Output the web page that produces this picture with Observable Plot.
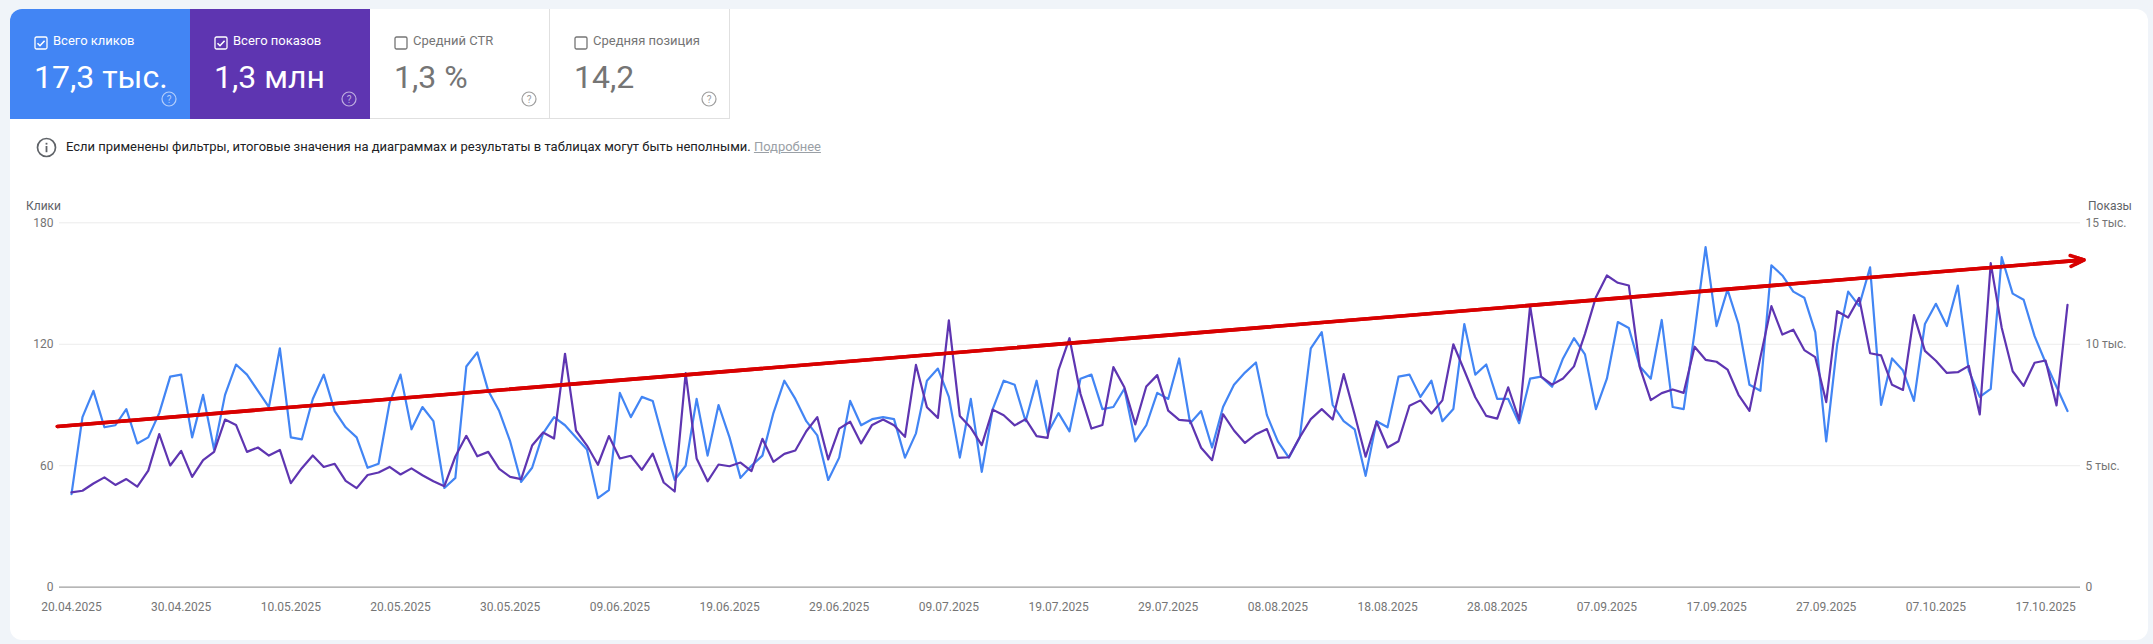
<!DOCTYPE html>
<html><head><meta charset="utf-8">
<script src="https://cdn.jsdelivr.net/npm/d3@7"></script>
<script src="https://cdn.jsdelivr.net/npm/@observablehq/plot@0.6"></script>
<style>
html,body{margin:0;padding:0;background:#f0f4f9;width:2153px;height:644px;overflow:hidden;font-family:Roboto,sans-serif}
#card{position:absolute;left:10px;top:9px;width:2138px;height:631px;background:#fff;border-radius:12px}
.tile{position:absolute;top:9px;width:180px;height:110px;box-sizing:border-box;color:#757575;border-right:1px solid #e0e0e0;border-bottom:1px solid #e0e0e0}
.tile.on{color:#fff;border:none}
.tile .lab{position:absolute;left:43px;top:25px;font-size:13px;line-height:14px;white-space:nowrap}
.tile .val{position:absolute;left:24px;top:49px;font-size:32px;line-height:38px;white-space:nowrap}
.tile svg.cb{position:absolute;left:24px;top:27px}
.tile svg.q{position:absolute;left:151px;top:82px}
#info{position:absolute;left:66px;top:139px;font-size:12.97px;line-height:16px;color:#202124;white-space:nowrap}
#info a{color:#9aa0a6;text-decoration:underline}
#infoIcon{position:absolute;left:36px;top:137px}
.ax{position:absolute;top:199px;font-size:12px;line-height:14px;color:#5f6368}
#chart{position:absolute;left:0;top:190px}
</style></head><body>
<div id="card"></div>
<div id="tiles"></div>
<svg id="infoIcon" width="21" height="21" viewBox="0 0 21 21"><circle cx="10.5" cy="10.5" r="9" fill="none" stroke="#5f6368" stroke-width="1.7"/><rect x="9.6" y="9" width="1.8" height="6.2" fill="#5f6368"/><rect x="9.6" y="5.8" width="1.8" height="1.8" fill="#5f6368"/></svg>
<div id="info">Если применены фильтры, итоговые значения на диаграммах и результаты в таблицах могут быть неполными. <a>Подробнее</a></div>
<div class="ax" style="left:26px">Клики</div>
<div class="ax" style="left:2088px">Показы</div>
<div id="chart"></div>
<script>
const startDate = "2025-04-20";
const clicks = [46,84,97,79,80,88,71,74,86,104,105,74,95,68,95,110,105,97,89,118,74,73,93,105,87,79,74,59,61,91,105,78,89,82,49,54,109,116,97,87,72,52,59,76,84,
80,74,68,44,48,96,84,94,92,72,53,60,93,65,90,74,54,60,65,86,102,93,82,75,53,64,92,80,83,84,83,64,76,102,108,94,64,93,57,88,102,100,82,102,76,86,77,103,105,88,
89,98,72,80,96,93,113,81,87,69,89,100,106,111,85,72,64,74,118,126,90,82,78,55,82,79,104,105,94,102,82,88,130,105,110,93,93,81,103,104,99,113,123,115,88,103,131,128,
109,103,132,89,88,126,168,129,147,130,100,97,159,154,146,143,126,72,120,146,139,158,90,113,107,92,130,140,129,149,107,94,98,163,145,142,124,111,99,87];
const impressions = [3900,3970,4270,4520,4210,4450,4140,4800,6300,5010,5610,4540,5230,5570,6900,6680,5570,5750,5420,5650,4280,4900,5420,4950,5080,4380,4080,4620,4720,4950,4640,4890,4610,4360,4160,5380,6230,5390,5570,4870,4540,4450,5830,6370,6120,
9610,6450,5830,5040,6220,5300,5410,4830,5500,4310,3940,8810,5300,4360,5050,4980,5130,4780,6110,5160,5490,5630,6420,7000,5260,6530,6810,5920,6680,6900,6670,6190,9150,7410,6970,10980,7050,6560,5850,7310,7080,6660,6920,6220,6150,8950,10250,7960,6530,6680,
9060,8230,6700,8260,8730,7270,6890,6850,5740,5230,7120,6450,5940,6300,6510,5320,5350,6180,6920,7330,6900,8770,7110,5370,6810,5750,6010,7470,7690,7150,7690,10000,8920,7820,7050,6940,8230,6890,11580,8670,8340,8590,9090,10430,11940,12830,12530,12420,
9060,7700,7990,8140,8000,9900,9360,9280,8960,7920,7260,9470,11570,10400,10600,9760,9470,7620,11360,11100,11910,9630,9540,8330,8120,11200,9730,9320,8820,8850,9110,7110,13340,10680,8890,8290,9240,9330,7480,11620];
const xTicks = ["2025-04-20","2025-04-30","2025-05-10","2025-05-20","2025-05-30","2025-06-09","2025-06-19","2025-06-29","2025-07-09","2025-07-19","2025-07-29","2025-08-08","2025-08-18","2025-08-28","2025-09-07","2025-09-17","2025-09-27","2025-10-07","2025-10-17"];
const leftTicks = [0,60,120,180];
const rightTicks = ["0","5 тыс.","10 тыс.","15 тыс."];
const maxClicks = 180, maxImpressions = 15000;
const trend = {from:"2025-04-18T17:00Z", to:"2025-10-20T12:00Z", a:79.4, b:161.7};
const tiles = [
 {label:"Всего кликов", value:"17,3 тыс.", bg:"#4285f4", on:true},
 {label:"Всего показов", value:"1,3 млн", bg:"#5e35b1", on:true},
 {label:"Средний CTR", value:"1,3 %", bg:"#fff", on:false},
 {label:"Средняя позиция", value:"14,2", bg:"#fff", on:false}
];

const tilesEl = document.getElementById("tiles");
tiles.forEach((t,i)=>{
  const c = t.on?"#fff":"#757575";
  const d = document.createElement("div");
  d.className = "tile"+(t.on?" on":"");
  d.style.left = (10+180*i)+"px";
  d.style.background = t.bg;
  if(i===0) d.style.borderTopLeftRadius="12px";
  d.innerHTML = `<svg class="cb" width="14" height="14" viewBox="0 0 14 14"><rect x="1" y="1" width="12" height="12" rx="1.5" fill="none" stroke="${c}" stroke-width="1.3"/>${t.on?`<path d="M3.5 7.2l2.5 2.5 4.6-5" fill="none" stroke="#fff" stroke-width="1.6"/>`:""}</svg>
  <div class="lab">${t.label}</div><div class="val">${t.value}</div>
  <svg class="q" width="16" height="16" viewBox="0 0 16 16"><circle cx="8" cy="8" r="7" fill="none" stroke="${t.on?"rgba(255,255,255,.6)":"#9e9e9e"}" stroke-width="1.2"/><text x="8" y="11.5" text-anchor="middle" font-size="10" font-family="Roboto" fill="${t.on?"rgba(255,255,255,.6)":"#9e9e9e"}">?</text></svg>`;
  tilesEl.appendChild(d);
});

const day = d3.utcDay.range(new Date(startDate), d3.utcDay.offset(new Date(startDate), clicks.length));
const n = Math.min(clicks.length, impressions.length);
const table = d3.range(n).map(i=>({date:day[i], clicks:clicks[i], imp:impressions[i]*maxClicks/maxImpressions}));
const fmt = d3.utcFormat("%d.%m.%Y");
const arrow = {x1:d=>new Date(d.from), x2:d=>new Date(d.to), y1:"a", y2:"b", stroke:"#d80000", strokeWidth:3.6, bend:0};
const plot = Plot.plot({
  width:2153, height:454,
  marginLeft:59, marginRight:73, marginTop:32, marginBottom:57,
  x:{type:"utc", domain:[day[0], day[182]], range:[71,2067]},
  y:{domain:[0,maxClicks], range:[396.7,32.3]},
  style:{fontFamily:"Roboto,sans-serif", fontSize:"12px", color:"#757575", background:"transparent", overflow:"visible"},
  marks:[
    Plot.ruleY(leftTicks.slice(1),{stroke:"#ececec", strokeWidth:1, strokeOpacity:1}),
    Plot.ruleY([0],{stroke:"#9e9e9e", strokeWidth:1.2, strokeOpacity:1}),
    Plot.axisX({ticks:xTicks.map(d=>new Date(d)), tickSize:0, tickPadding:15, tickFormat:fmt, label:null, stroke:"none", fill:"#757575"}),
    Plot.axisY({anchor:"left", ticks:leftTicks, tickSize:0, tickPadding:6, label:null, fill:"#757575"}),
    Plot.axisY({anchor:"right", ticks:leftTicks, tickSize:0, tickPadding:5, label:null, fill:"#757575", tickFormat:d=>rightTicks[leftTicks.indexOf(d)]}),
    Plot.lineY(table,{x:"date", y:"clicks", stroke:"#4285f4", strokeWidth:2.2}),
    Plot.lineY(table,{x:"date", y:"imp", stroke:"#5e35b1", strokeWidth:2.2}),
    Plot.arrow([trend],{...arrow, headLength:6, headAngle:44}),
    Plot.arrow([trend],{...arrow, headLength:3.5, headAngle:44})
  ]
});
document.getElementById("chart").appendChild(plot);
</script>
</body></html>
